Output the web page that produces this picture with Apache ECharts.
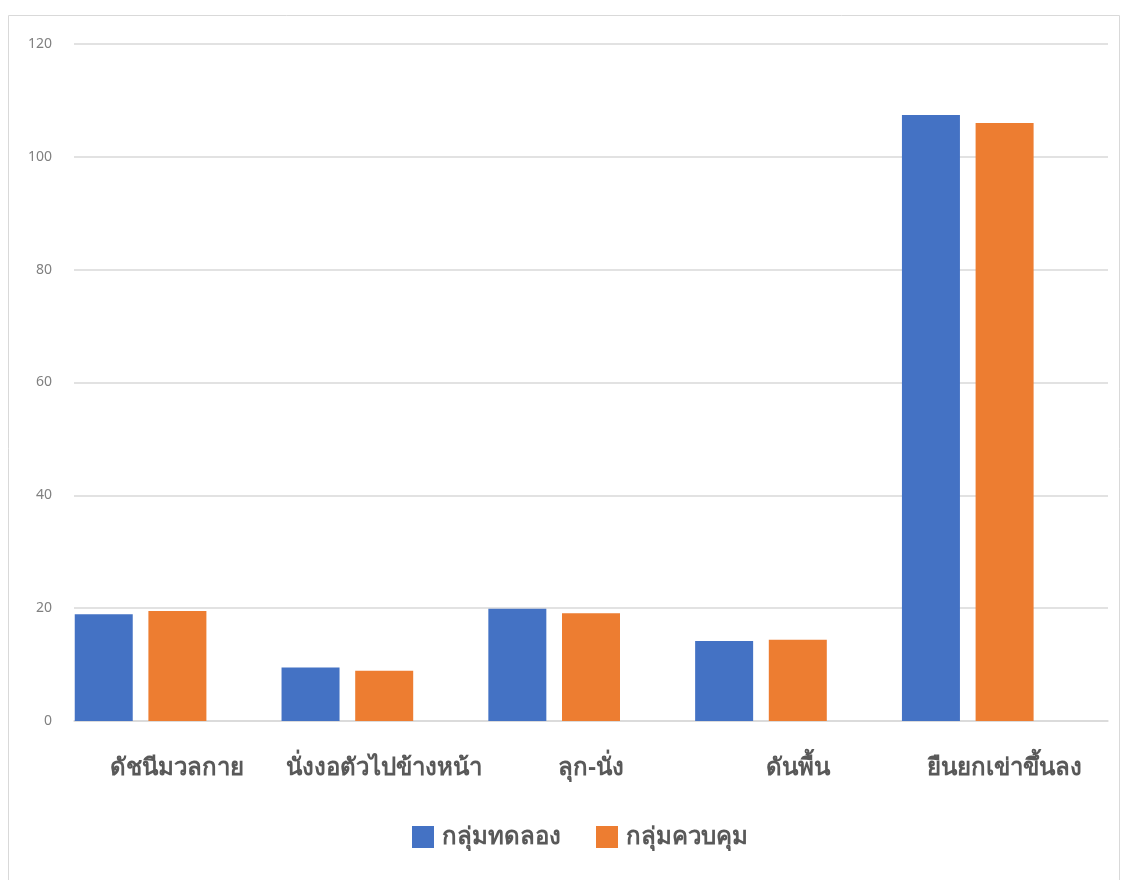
<!DOCTYPE html>
<html>
<head>
<meta charset="utf-8">
<script src="https://cdn.jsdelivr.net/npm/echarts@6/dist/echarts.min.js"></script>
<style>
  html, body { margin: 0; padding: 0; background: #fff; }
  #main { width: 1127px; height: 880px; }
</style>
</head>
<body>
<div id="main"></div>
<script>
  var categories = ['ดัชนีมวลกาย', 'นั่งงอตัวไปข้างหน้า', 'ลุก-นั่ง', 'ดันพื้น', 'ยืนยกเข่าขึ้นลง'];
  var seriesNames = ['กลุ่มทดลอง', 'กลุ่มควบคุม'];
  var experimental = [18.9, 9.5, 19.9, 14.2, 107.4];
  var control = [19.5, 8.9, 19.1, 14.4, 106.0];
  var yTicks = { min: 0, max: 120, interval: 20 };

  var font = '"Noto Sans", "DejaVu Sans", sans-serif';

  var chart = echarts.init(document.getElementById('main'));
  chart.setOption({
    animation: false,
    graphic: [{
      type: 'rect',
      shape: { x: 8.5, y: 15.5, width: 1111, height: 900 },
      style: { fill: 'none', stroke: '#d9d9d9', lineWidth: 1 },
      silent: true
    }],
    grid: { left: 74, right: 19, top: 44, bottom: 159 },
    legend: {
      data: seriesNames,
      bottom: 26,
      left: 407,
      itemWidth: 22,
      itemHeight: 22,
      itemGap: 35,
      icon: 'rect',
      textStyle: { fontSize: 24, color: '#595959', fontFamily: font, fontWeight: 'bold', padding: [0, 0, 0, 3] }
    },
    xAxis: {
      type: 'category',
      data: categories,
      axisLine: { lineStyle: { color: '#d9d9d9', width: 1.5 } },
      axisTick: { show: false },
      axisLabel: {
        interval: 0, margin: 35,
        fontSize: 24, color: '#595959', fontFamily: font, fontWeight: 'bold'
      }
    },
    yAxis: {
      type: 'value',
      min: yTicks.min, max: yTicks.max, interval: yTicks.interval,
      axisLine: { show: false },
      axisTick: { show: false },
      splitLine: { lineStyle: { color: '#d9d9d9', width: 1.5 } },
      axisLabel: { fontSize: 14, color: '#808080', fontFamily: font, margin: 22 }
    },
    series: [
      { name: seriesNames[0], type: 'bar', data: experimental, barWidth: 58, barGap: '27%', barCategoryGap: '0%',
        itemStyle: { color: '#4472c4' } },
      { name: seriesNames[1], type: 'bar', data: control, barWidth: 58, barGap: '27%',
        itemStyle: { color: '#ed7d31' } },
      { name: 'spacer', type: 'bar', data: categories.map(function () { return null; }), barWidth: 58, barGap: '27%' }
    ]
  });
</script>
</body>
</html>
